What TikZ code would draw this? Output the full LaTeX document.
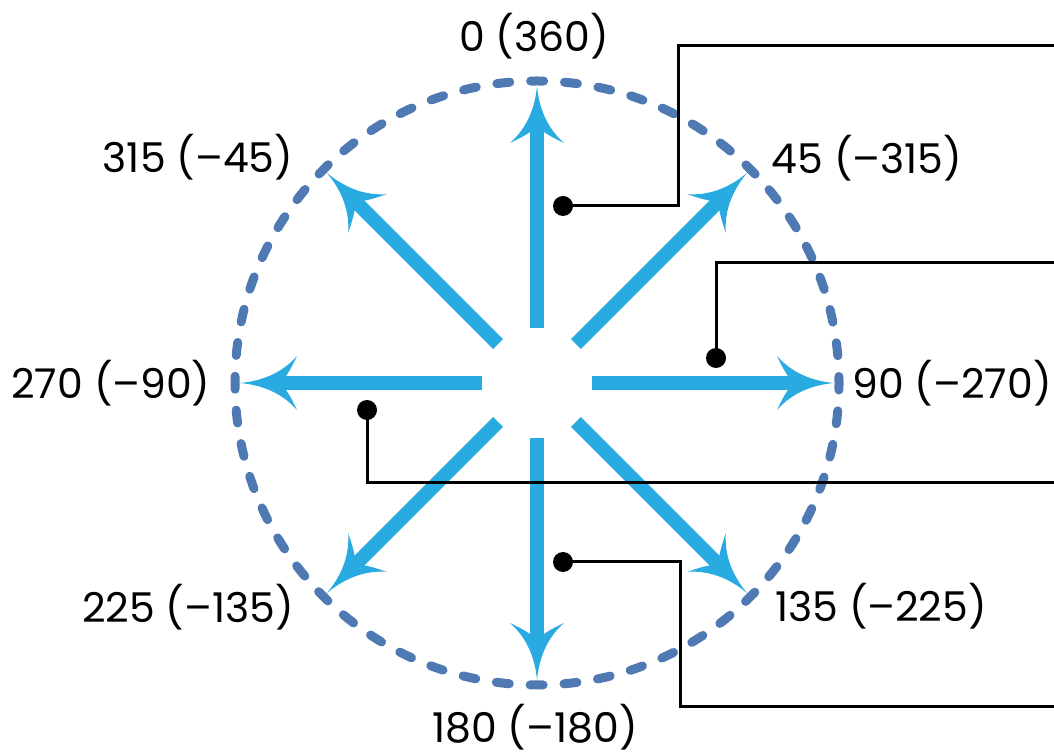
\documentclass[tikz,border=0pt]{standalone}
\usepackage{fontspec}
\setmainfont{Poppins}
\definecolor{arrowblue}{RGB}{41,171,226}
\definecolor{ringblue}{RGB}{79,121,178}
\begin{document}
\begin{tikzpicture}[x=1pt,y=1pt,
  lbl/.style={font=\fontsize{41}{48}\selectfont, inner sep=0pt, anchor=base},
  dotnode/.style={circle, fill=black, minimum size=20pt, inner sep=0pt},
  leader/.style={draw=black, line width=3pt}]
\useasboundingbox (0,0) rectangle (1054,755);
\coordinate (C) at (537,372);
% dashed ring
\draw[ringblue, line width=9pt, line cap=round, dash pattern=on 13pt off 20.88pt, dash phase=6.5pt] (C) circle[radius=302];
% arrows
\foreach \a in {0,45,...,315}{
  \begin{scope}[shift={(C)}, rotate=90-\a]
    \fill[arrowblue] (55,-7) rectangle (258,7);
    \fill[arrowblue] (297,0) .. controls (275,2) and (255,10) .. (240,27)
       .. controls (246,14) and (250,8) .. (256,0)
       .. controls (250,-8) and (246,-14) .. (240,-27)
       .. controls (255,-10) and (275,-2) .. (297,0) -- cycle;
  \end{scope}
}
% labels
\node[lbl] (l0) at (534,703) {0 (360)};
\node[lbl] (l45) at (867,581) {45 (–315)};
\node[lbl] (l90) at (952,356) {90 (–270)};
\node[lbl] (l135) at (881,134) {135 (–225)};
\node[lbl] (l180) at (535,13) {180 (–180)};
\node[lbl] (l225) at (188,132) {225 (–135)};
\node[lbl] (l270) at (111,356) {270 (–90)};
\node[lbl] (l315) at (198,582) {315 (–45)};
% leaders
\node[dotnode] (d1) at (563,549) {};
\node[dotnode] (d2) at (716,397) {};
\node[dotnode] (d3) at (367,345) {};
\node[dotnode] (d4) at (563,193) {};
\coordinate (e1) at (1056,709);
\coordinate (e2) at (1056,492);
\coordinate (e3) at (1056,272);
\coordinate (e4) at (1056,49);
\draw[leader] (d1.center) -| (678,709) -- (e1);
\draw[leader] (d2.center) |- (e2);
\draw[leader] (d3.center) |- (e3);
\draw[leader] (d4.center) -| (680,49) -- (e4);
\end{tikzpicture}
\end{document}
